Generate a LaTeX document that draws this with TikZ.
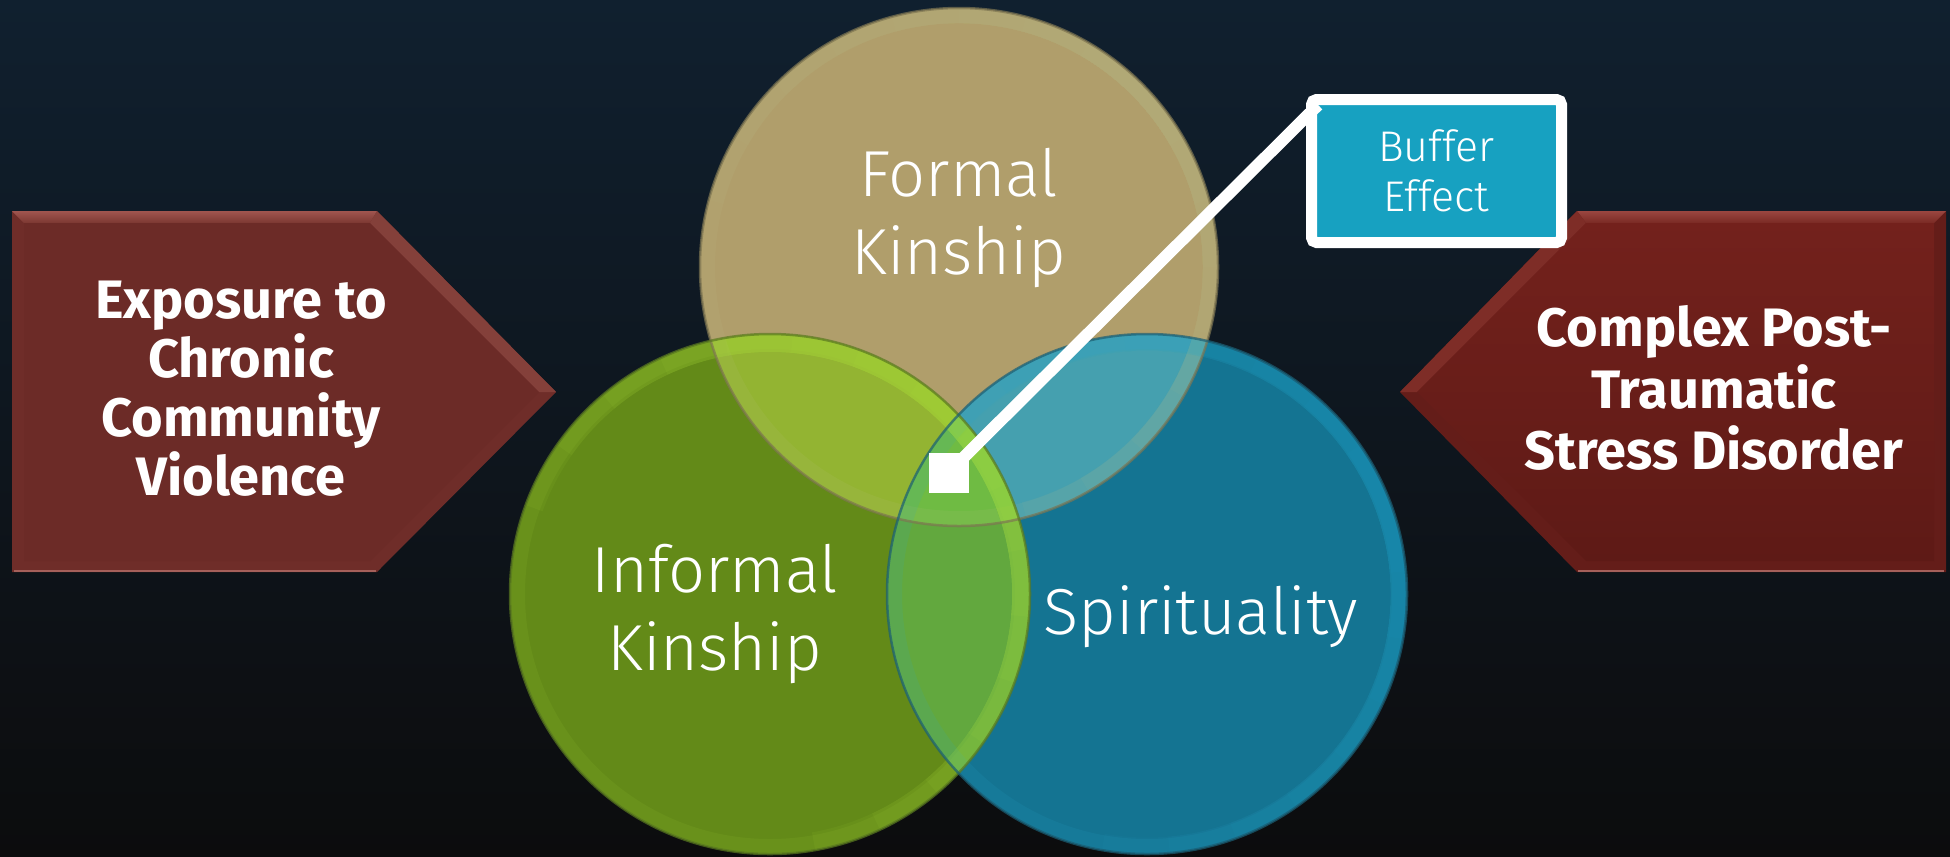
\documentclass[tikz,border=0pt]{standalone}
\usepackage{fontspec}
\newfontfamily\lightfont{Fira Sans Light}
\newfontfamily\boldfont{Fira Sans}
\usetikzlibrary{calc}
\definecolor{bgtop}{HTML}{10202F}
\definecolor{bgmid}{HTML}{0E1A23}
\definecolor{bgbot}{HTML}{0C0C0D}
\definecolor{leftred}{HTML}{6C2B27}
\definecolor{leftbevTa}{HTML}{A0554F}
\definecolor{leftbevTb}{HTML}{7C3832}
\definecolor{leftbevD}{HTML}{84403A}
\definecolor{leftbev}{HTML}{6F2D29}
\definecolor{leftedge}{HTML}{A5605A}
\definecolor{rightredT}{HTML}{73211C}
\definecolor{rightredB}{HTML}{5E1A16}
\definecolor{rightbevTa}{HTML}{9A4640}
\definecolor{rightbevTb}{HTML}{7A2A24}
\definecolor{rightbevD}{HTML}{7E2D27}
\definecolor{rightbev}{HTML}{641D19}
\definecolor{formalc}{HTML}{B09E6B}
\definecolor{formalrim}{HTML}{C2C48C}
\definecolor{formalline}{HTML}{7E7652}
\definecolor{greenc}{HTML}{638A18}
\definecolor{greenrim}{HTML}{B4E842}
\definecolor{greenline}{HTML}{5A7A20}
\definecolor{bluec}{HTML}{147492}
\definecolor{bluerim}{HTML}{2AA8D0}
\definecolor{blueline}{HTML}{1B5F75}
\definecolor{fgc}{HTML}{93B432}
\definecolor{fbc}{HTML}{45A0AF}
\definecolor{gbc}{HTML}{62A83E}
\definecolor{fgbc}{HTML}{6FBB43}
\definecolor{buffill}{HTML}{17A1C1}
\tikzset{
  lighttext/.style={font=\lightfont\fontsize{18.5}{22}\selectfont, text=white, align=center, inner sep=0pt},
  boldtext/.style={font=\boldfont\bfseries\fontsize{15.4}{16.8}\selectfont, text=white, align=center, inner sep=0pt},
  bufferbox/.style={draw=white, line width=1.1mm, fill=buffill, rounded corners=0.5mm,
     minimum width=25mm, minimum height=14.3mm, inner sep=0pt,
     font=\lightfont\fontsize{12.2}{14.2}\selectfont, text=white, align=center},
  marker/.style={fill=white, minimum size=4mm, inner sep=0pt, draw=none},
}
\begin{document}
\begin{tikzpicture}[x=0.1mm,y=-0.1mm]
\useasboundingbox (0,0) rectangle (1950,856);
\shade[top color=bgtop, middle color=bgmid, bottom color=bgbot] (0,0) rectangle (1950,856);

% left arrow
\fill[leftbev] (12,211) -- (377,211) -- (556,392) -- (377,572) -- (12,572) -- cycle;
\shade[top color=leftbevTa, bottom color=leftbevTb] (12,211) -- (377,211) -- (370,223) -- (24,223) -- cycle;
\fill[leftbevD] (377,211) -- (556,392) -- (539,392) -- (370,223) -- cycle;
\fill[leftred] (24,223) -- (370,223) -- (539,392) -- (370,561) -- (24,561) -- cycle;
\draw[leftedge, line width=0.2mm] (14,570.5) -- (376,570.5);

% right arrow
\fill[rightbev] (1946,211) -- (1577,211) -- (1400,392) -- (1577,572) -- (1946,572) -- cycle;
\shade[top color=rightbevTa, bottom color=rightbevTb] (1946,211) -- (1577,211) -- (1586,223) -- (1934,223) -- cycle;
\fill[rightbevD] (1577,211) -- (1400,392) -- (1417,392) -- (1586,223) -- cycle;
\shade[top color=rightredT, bottom color=rightredB] (1934,223) -- (1586,223) -- (1417,392) -- (1586,561) -- (1934,561) -- cycle;
\draw[leftedge, line width=0.2mm] (1578,570.5) -- (1944,570.5);

% circles
\coordinate (cF) at (959,267);
\coordinate (cG) at (770,594);
\coordinate (cB) at (1147,594);
\fill[formalc] (cF) circle[radius=25.9mm];
\fill[greenc] (cG) circle[radius=26mm];
\fill[bluec] (cB) circle[radius=26mm];
\begin{scope}
  \clip (cF) circle[radius=25.9mm];
  \fill[fgc] (cG) circle[radius=26mm];
  \fill[fbc] (cB) circle[radius=26mm];
\end{scope}
\begin{scope}
  \clip (cG) circle[radius=26mm];
  \fill[gbc] (cB) circle[radius=26mm];
\end{scope}
\begin{scope}
  \clip (cF) circle[radius=25.9mm];
  \clip (cG) circle[radius=26mm];
  \fill[fgbc] (cB) circle[radius=26mm];
\end{scope}
% soft rims: faint full ring plus a gradual top-right glow
\draw[formalrim, line width=1.4mm, opacity=0.10] (cF) circle[radius=25.1mm];
\draw[greenrim, line width=1.4mm, opacity=0.08] (cG) circle[radius=25.2mm];
\draw[bluerim, line width=1.4mm, opacity=0.12] (cB) circle[radius=25.2mm];
\foreach \a in {120,105,90,75,60,45,30,15} {
  \draw[formalrim, line width=1.5mm, opacity=0.05] ($(cF)+(45+\a:25.1mm)$) arc[start angle=45+\a, end angle=45-\a, radius=25.1mm];
  \draw[greenrim, line width=1.8mm, opacity=0.065] ($(cG)+(40+\a:25.1mm)$) arc[start angle=40+\a, end angle=40-\a, radius=25.1mm];
  \draw[bluerim, line width=1.5mm, opacity=0.05] ($(cB)+(20+\a:25.1mm)$) arc[start angle=20+\a, end angle=20-\a, radius=25.1mm];
}
\draw[formalline, line width=0.25mm, opacity=0.7] (cF) circle[radius=25.9mm];
\draw[greenline, line width=0.25mm, opacity=0.7] (cG) circle[radius=26mm];
\draw[blueline, line width=0.25mm, opacity=0.7] (cB) circle[radius=26mm];

% texts
\node[lighttext] (tF) at (959,218) {Formal\\Kinship};
\node[lighttext] (tG) at (715,614) {Informal\\Kinship};
\node[lighttext, anchor=base] (tB) at (1201,634) {Spirituality};
\node[boldtext] (tL) at (241,389) {Exposure to\\Chronic\\Community\\Violence};
\node[boldtext, font=\boldfont\bfseries\fontsize{15.4}{17.5}\selectfont] (tR) at (1714,388) {Complex Post-\\Traumatic\\Stress Disorder};

% buffer callout
\node[bufferbox] (buf) at (1436.5,171) {Buffer\\Effect};
\node[marker] (sq) at (949,473) {};
\draw[white, line width=1.2mm] ([shift={(-6,5)}]sq.north east) -- ([shift={(12,11)}]buf.north west);
\end{tikzpicture}
\end{document}
